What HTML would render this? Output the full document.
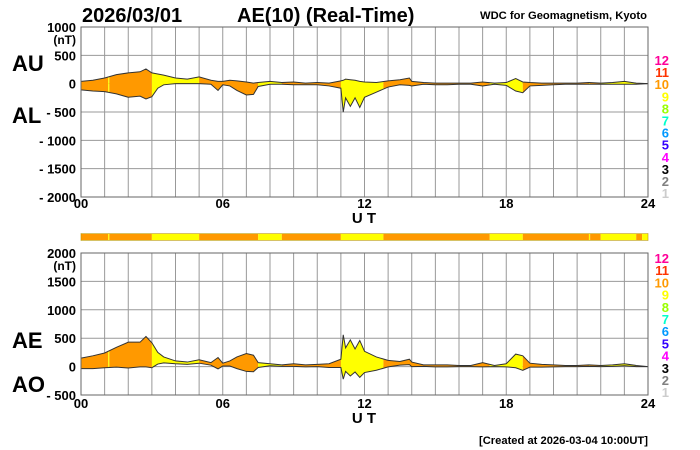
<!DOCTYPE html>
<html><head><meta charset="utf-8"><style>
body{margin:0;background:#fff}
svg{display:block;font-family:"Liberation Sans",Arial,sans-serif}
</style></head><body>
<svg id="c" width="700" height="450" viewBox="0 0 700 450">
<text x="82" y="22" font-size="20" font-weight="bold">2026/03/01</text>
<text x="237" y="22" font-size="20" font-weight="bold">AE(10) (Real-Time)</text>
<text x="480" y="19" font-size="11" font-weight="bold" textLength="167" lengthAdjust="spacingAndGlyphs">WDC for Geomagnetism, Kyoto</text>
<text x="12" y="71" font-size="22" font-weight="bold">AU</text>
<text x="12" y="123" font-size="22" font-weight="bold">AL</text>
<text x="12" y="348" font-size="22" font-weight="bold">AE</text>
<text x="12" y="392" font-size="22" font-weight="bold">AO</text>
<text x="479" y="444" font-size="11" font-weight="bold" textLength="169" lengthAdjust="spacingAndGlyphs">[Created at 2026-03-04 10:00UT]</text>
<g id="g"></g>
</svg>
<script>
const times=[0,0.5,1,1.5,2,2.5,2.75,3,3.25,3.5,4,4.5,5,5.5,5.8,6,6.3,6.6,7,7.3,7.5,8,8.5,9,9.5,10,10.5,11,11.1,11.2,11.4,11.6,11.8,12,12.5,13,13.5,13.9,14,14.5,15,15.5,16,16.5,17,17.5,18,18.4,18.7,19,19.5,20,20.5,21,21.5,22,22.5,23,23.5,24];
const auValues=[40,60,100,160,190,210,260,190,170,150,100,80,120,60,40,40,60,50,30,10,20,40,20,30,10,20,10,50,60,80,70,60,40,30,20,50,70,100,40,20,10,10,10,10,30,10,20,90,30,20,10,10,10,10,20,10,20,40,10,0];
const alValues=[-110,-130,-140,-180,-240,-220,-270,-230,-80,-20,0,0,0,-10,-120,-20,-40,-120,-200,-190,-50,-10,-10,-20,-20,-20,-40,-80,-500,-250,-400,-250,-420,-240,-150,-60,-20,-30,-40,-10,-20,-20,-10,-10,-40,-10,-30,-130,-160,-40,-30,-20,-10,-10,-10,-10,-10,-10,-10,0];
const segStart=[0,1.15,1.2,3.0,5.0,7.5,8.5,11.0,12.8,17.3,18.7,21.5,21.55,22.0,23.5,23.75];
const segEnd=[1.15,1.2,3.0,5.0,7.5,8.5,11.0,12.8,17.3,18.7,21.5,21.55,22.0,23.5,23.75,24];
const segLevel=[10,9,10,9,10,9,10,9,10,9,10,9,10,9,10,9];
const topTicks=[1000,500,0,-500,-1000,-1500,-2000];
const botTicks=[2000,1500,1000,500,0,-500];
const xTickLabels=["00","06","12","18","24"];
const levelLabels=["12","11","10","9","8","7","6","5","4","3","2","1"];
const levelColors=["#ff0099","#ff3300","#ff9900","#ffff00","#99ff00","#00ffcc","#0099ff","#3300ff","#ff00ff","#000000","#808080","#cccccc"];
const aeValues=auValues.map((u,i)=>u-alValues[i]);
const aoValues=auValues.map((u,i)=>(u+alValues[i])/2);
const NS="http://www.w3.org/2000/svg";
const G=document.getElementById('g');
function mk(tag,attrs,parent){const e=document.createElementNS(NS,tag);for(const k in attrs)e.setAttribute(k,attrs[k]);(parent||G).appendChild(e);return e;}
const X0=81,X1=648;
const xs=h=>X0+(X1-X0)*h/24;
function colorFor(l){return levelColors[12-l];}
function panel(id,yTop,yBot,vMax,vMin,ticks,upper,lower,xlabY,legTop,legStep){
  const ys=v=>yTop+(vMax-v)*(yBot-yTop)/(vMax-vMin);
  for(let h=0;h<=24;h++){const l=mk('line',{x1:xs(h),x2:xs(h),y1:yTop,y2:yBot,stroke:'#999','stroke-width':1});
    
    }
  ticks.forEach(v=>{const l=mk('line',{x1:X0,x2:X1,y1:ys(v),y2:ys(v),stroke:'#999','stroke-width':1});
    
    
    const t=mk('text',{x:76,y:ys(v)+5,'font-size':13,'font-weight':'bold','text-anchor':'end'});
    t.textContent=v<0?('- '+(-v)):String(v);
    
    });
  const nt=mk('text',{x:76,y:ys(ticks[0])+17,'font-size':12,'font-weight':'bold','text-anchor':'end'});nt.textContent='(nT)';
  
  
  let pts=times.map((t,i)=>xs(t)+','+ys(upper[i]));
  for(let i=times.length-1;i>=0;i--)pts.push(xs(times[i])+','+ys(lower[i]));
  segStart.forEach((s,k)=>{
    const cp=mk('clipPath',{id:id+'cp'+k});
    mk('rect',{x:xs(s),y:yTop,width:xs(segEnd[k])-xs(s),height:yBot-yTop},cp);
    const p=mk('polygon',{points:pts.join(' '),fill:colorFor(segLevel[k]),'clip-path':'url(#'+id+'cp'+k+')'});
    
    
  });
  [upper,lower].forEach((arr,j)=>{const l=mk('polyline',{points:times.map((t,i)=>xs(t)+','+ys(arr[i])).join(' '),fill:'none',stroke:'#333','stroke-width':1});
    
    });
  const b=mk('rect',{x:X0,y:yTop,width:X1-X0,height:yBot-yTop,fill:'none',stroke:'#666','stroke-width':1});
  
  
  xTickLabels.forEach((s,i)=>{const t=mk('text',{x:xs(i*6),y:xlabY,'font-size':13,'font-weight':'bold','text-anchor':'middle'});t.textContent=s;
    
    });
  const ut=mk('text',{x:364,y:xlabY+15,'font-size':15,'font-weight':'bold','text-anchor':'middle'});ut.textContent='U T';
  
  
  levelLabels.forEach((s,i)=>{const t=mk('text',{x:669,y:legTop+i*legStep,'font-size':13,'font-weight':'bold','text-anchor':'end',fill:levelColors[i]});t.textContent=s;
    
    });
}
panel('top',27,197,1000,-2000,topTicks,auValues,alValues,208,65,12.1);
panel('bottom',253,395,2000,-500,botTicks,aeValues,aoValues,408,263,12.2);
segStart.forEach((s,k)=>{const r=mk('rect',{x:xs(s),y:234,width:xs(segEnd[k])-xs(s),height:6,fill:colorFor(segLevel[k])});
  
  });
const sf=mk('rect',{x:X0,y:233.5,width:X1-X0,height:7,fill:'none',stroke:'#bb9900','stroke-width':0.6});


</script>
</body></html>
